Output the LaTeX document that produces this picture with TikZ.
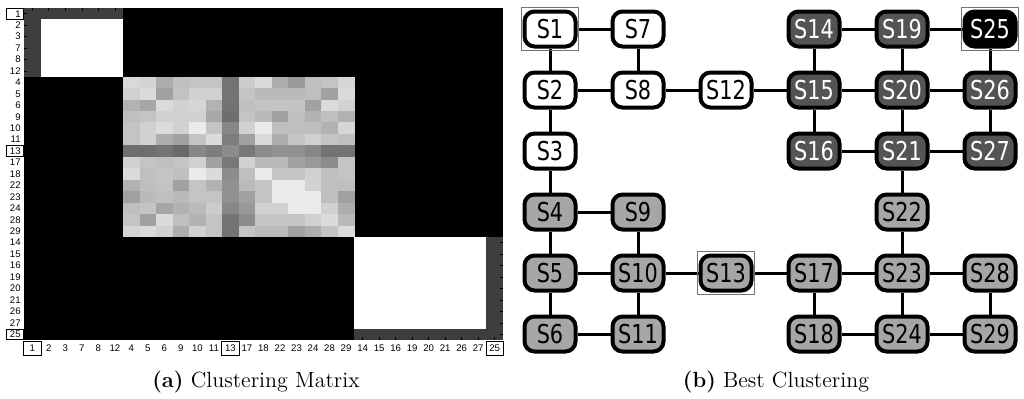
\documentclass[tikz,border=0pt]{standalone}
\usepackage{fontspec}
\usetikzlibrary{positioning}
\newfontfamily\statefont[FakeStretch=0.8]{DejaVu Sans}
\newfontfamily\tickfont{Liberation Sans}
\newcommand{\cellw}{16.517}
\newcommand{\cellh}{11.448}

\begin{document}
\begin{tikzpicture}[
    x=0.5pt, y=-0.5pt,
    node distance=11pt and 16.5pt,
    state/.style={rectangle, rounded corners=5pt, draw, line width=2pt, minimum width=25.5pt, minimum height=17.5pt, inner sep=0pt, font=\statefont\fontsize{13}{13}\selectfont},
    whitestate/.style={state, fill=white},
    greystate/.style={state, fill=black!35},
    darkstate/.style={state, fill=black!67, text=white},
    blackstate/.style={state, fill=black, text=white},
    link/.style={line width=1.5pt},
    hilite/.style={draw=black!55, line width=0.4pt},
    labelbox/.style={draw=black, line width=0.35pt},
    rowlabel/.style={anchor=east, text width=6pt, align=right, inner xsep=1pt, inner ysep=0pt, minimum height=5pt, font=\tickfont\fontsize{4.8}{4.8}\selectfont},
    collabel/.style={minimum width=8.25pt, minimum height=6.5pt, inner sep=0pt, font=\tickfont\fontsize{4.8}{4.8}\selectfont},
    axtick/.style={line width=0.3pt},
    captext/.style={font=\fontsize{11}{13}\selectfont}
]
\useasboundingbox (0,0) rectangle (1024,398);

% clustering matrix
\fill[black] (24,8) rectangle (503,340);
\fill[black!76] (24,8) rectangle ({24+6*\cellw},{8+6*\cellh});
\fill[white] ({24+\cellw},{8+\cellh}) rectangle ({24+6*\cellw},{8+6*\cellh});
\fill[black!76] ({24+20*\cellw},{8+20*\cellh}) rectangle (503,340);
\fill[white] ({24+20*\cellw},{8+20*\cellh}) rectangle ({24+28*\cellw},{8+28*\cellh});
\foreach \vals [count=\i] in {
    {85,83,68,75,77,77,45,80,86,68,60,75,77,84},
    {82,86,63,76,82,82,45,77,73,73,73,75,63,86},
    {70,65,86,82,84,70,45,75,77,77,77,63,86,82},
    {75,77,82,82,82,66,43,77,73,63,75,70,75,70},
    {77,82,86,82,92,77,53,82,92,75,75,75,70,84},
    {77,82,68,63,77,86,49,63,86,68,77,82,77,75},
    {43,43,45,41,53,49,55,47,55,57,57,53,45,45},
    {82,77,75,77,82,63,47,82,73,73,63,60,55,77},
    {86,75,77,75,92,86,55,75,92,77,77,82,75,77},
    {70,75,77,63,77,70,57,73,77,92,92,82,75,75},
    {63,73,75,73,77,77,57,63,77,92,92,92,75,63},
    {75,77,65,70,73,80,53,60,82,82,92,92,82,68},
    {77,63,86,75,70,77,45,55,77,77,77,82,86,73},
    {84,86,82,68,82,77,45,77,73,73,63,68,77,86}} {
  \foreach \v [count=\j] in \vals {
    \fill[white!\v!black] ({24+(\j+5)*\cellw},{8+(\i+5)*\cellh}) rectangle ({24+(\j+6)*\cellw+0.3},{8+(\i+6)*\cellh+0.3});
  }
}

% ticks and labels
\foreach \lab [count=\k] in {1,2,3,7,8,12,4,5,6,9,10,11,13,17,18,22,23,24,28,29,14,15,16,19,20,21,26,27,25} {
  \draw[axtick] ({24+(\k-0.5)*\cellw},8) -- ++(0,3);
  \draw[axtick] ({24+(\k-0.5)*\cellw},340) -- ++(0,-3);
  \draw[axtick] (24,{8+(\k-0.5)*\cellh}) -- ++(3,0);
  \draw[axtick] (503,{8+(\k-0.5)*\cellh}) -- ++(-3,0);
  \node[rowlabel] (r\k) at (23,{8+(\k-0.5)*\cellh}) {\lab};
  \node[collabel] (c\k) at ({24+(\k-0.5)*\cellw},348.5) {\lab};
}
\foreach \k in {1,13,29} {
  \draw[labelbox] (r\k.south west) rectangle (r\k.north east);
  \draw[labelbox] (c\k.south west) rectangle (c\k.north east);
}

% best clustering
\node[whitestate] (S1) at (550,29) {S1};
\node[whitestate, below=of S1] (S2) {S2};
\node[whitestate, below=of S2] (S3) {S3};
\node[greystate, below=of S3] (S4) {S4};
\node[greystate, below=of S4] (S5) {S5};
\node[greystate, below=of S5] (S6) {S6};
\node[whitestate, right=of S1] (S7) {S7};
\node[whitestate, right=of S2] (S8) {S8};
\node[greystate, right=of S4] (S9) {S9};
\node[greystate, right=of S5] (S10) {S10};
\node[greystate, right=of S6] (S11) {S11};
\node[whitestate, right=of S8] (S12) {S12};
\node[greystate, right=of S10] (S13) {S13};
\node[darkstate, right=of S12] (S15) {S15};
\node[darkstate, above=of S15] (S14) {S14};
\node[darkstate, below=of S15] (S16) {S16};
\node[greystate, right=of S13] (S17) {S17};
\node[greystate, below=of S17] (S18) {S18};
\node[darkstate, right=of S15] (S20) {S20};
\node[darkstate, above=of S20] (S19) {S19};
\node[darkstate, below=of S20] (S21) {S21};
\node[greystate, below=of S21] (S22) {S22};
\node[greystate, below=of S22] (S23) {S23};
\node[greystate, below=of S23] (S24) {S24};
\node[darkstate, right=of S20] (S26) {S26};
\node[blackstate, above=of S26] (S25) {S25};
\node[darkstate, below=of S26] (S27) {S27};
\node[greystate, right=of S23] (S28) {S28};
\node[greystate, below=of S28] (S29) {S29};

\foreach \a/\b in {S1/S7, S1/S2, S7/S8, S2/S8, S8/S12, S2/S3, S3/S4, S12/S15,
    S4/S9, S4/S5, S9/S10, S5/S10, S10/S13, S5/S6, S10/S11, S6/S11, S13/S17,
    S14/S19, S19/S25, S14/S15, S19/S20, S25/S26, S15/S20, S20/S26, S15/S16,
    S20/S21, S26/S27, S16/S21, S21/S27, S21/S22, S22/S23, S17/S23, S23/S28,
    S17/S18, S23/S24, S28/S29, S18/S24, S24/S29}
  \draw[link] (\a) -- (\b);

\foreach \s in {S1,S13,S25}
  \draw[hilite] ([shift={(-0.5pt,-1pt)}]\s.south west) rectangle ([shift={(0.5pt,1pt)}]\s.north east);

% captions
\node[captext] (capa) at (256,382) {\textbf{(a)} Clustering Matrix};
\node[captext] (capb) at (776,382) {\textbf{(b)} Best Clustering};

\end{tikzpicture}
\end{document}
